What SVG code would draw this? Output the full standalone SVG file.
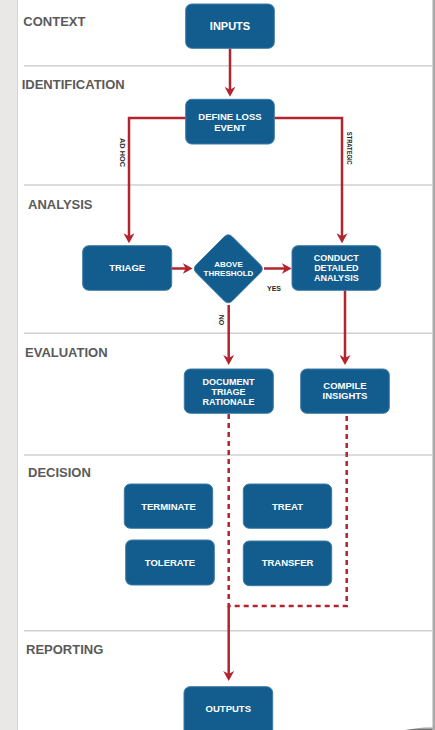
<svg xmlns="http://www.w3.org/2000/svg" width="435" height="730" viewBox="0 0 435 730">
<defs>
<style>
.node{fill:#125d8e;stroke:#3f7ba6;stroke-width:1}
.nt{font-family:"Liberation Sans",Arial,sans-serif;font-weight:bold;fill:#ffffff;text-anchor:middle;font-size:9.5px}
.nt3{font-size:9px}
.sec{font-family:"Liberation Sans",Arial,sans-serif;font-weight:bold;fill:#5a5a5a;font-size:13px}
.div{stroke:#d0d0d0;stroke-width:1.6}
.con{fill:none;stroke:#b3242e;stroke-width:2.5}
.dash{fill:none;stroke:#b3242e;stroke-width:2.5;stroke-dasharray:5 4}
.lbl{font-family:"Liberation Sans",Arial,sans-serif;font-weight:bold;fill:#2a2a2a;font-size:7px;text-anchor:middle}
</style>
<marker id="arr" viewBox="0 0 10 11" refX="7" refY="5.5" markerWidth="10" markerHeight="11" markerUnits="userSpaceOnUse" orient="auto">
<path d="M0,0 L10,5.5 L0,11 L3,5.5 z" fill="#b3242e"/>
</marker>
<linearGradient id="sh" x1="0" y1="0" x2="0" y2="1">
<stop offset="0" stop-color="#888" stop-opacity="0"/>
<stop offset="1" stop-color="#444" stop-opacity="0.9"/>
</linearGradient>
</defs>
<rect x="0" y="0" width="435" height="730" fill="#ffffff"/>
<rect x="0" y="0" width="17.5" height="730" fill="#e9e8e6"/>
<line x1="17.5" y1="0" x2="17.5" y2="730" stroke="#d6d5d3" stroke-width="1"/>
<rect x="432.5" y="0" width="2.5" height="730" fill="#aaaaaa"/>
<path d="M405,730 L432.5,726 L432.5,730 Z" fill="url(#sh)"/>

<g id="dividers">
<line class="div" x1="24" y1="65.7" x2="432.5" y2="65.7"/>
<line class="div" x1="24" y1="185" x2="432.5" y2="185"/>
<line class="div" x1="24" y1="333.3" x2="432.5" y2="333.3"/>
<line class="div" x1="24" y1="455" x2="432.5" y2="455"/>
<line class="div" x1="24" y1="630.7" x2="432.5" y2="630.7"/>
</g>

<g id="sections">
<text class="sec" x="23.3" y="25.7">CONTEXT</text>
<text class="sec" x="21.7" y="89.3">IDENTIFICATION</text>
<text class="sec" x="28" y="209.3">ANALYSIS</text>
<text class="sec" x="25" y="357.3">EVALUATION</text>
<text class="sec" x="28" y="477.3">DECISION</text>
<text class="sec" x="26" y="654">REPORTING</text>
</g>

<g id="connectors">
<line class="con" x1="230" y1="48.3" x2="230" y2="93.7" marker-end="url(#arr)"/>
<path class="con" d="M185.7,118 H129 V240.3" marker-end="url(#arr)"/>
<path class="con" d="M274.3,118 H342 V240.3" marker-end="url(#arr)"/>
<line class="con" x1="171.7" y1="268.5" x2="189.7" y2="268.5" marker-end="url(#arr)"/>
<line class="con" x1="264" y1="268.5" x2="288.7" y2="268.5" marker-end="url(#arr)"/>
<line class="con" x1="228.7" y1="305" x2="228.7" y2="362" marker-end="url(#arr)"/>
<line class="con" x1="345" y1="290.3" x2="345" y2="362" marker-end="url(#arr)"/>
<path class="dash" d="M228.7,414 V606 H346.7 V414"/>
<line class="con" x1="228.7" y1="606" x2="228.7" y2="678" marker-end="url(#arr)"/>
<text class="lbl" transform="translate(122,152.5) rotate(90)" dy="2.5" textLength="29" lengthAdjust="spacingAndGlyphs">AD HOC</text>
<text class="lbl" transform="translate(349,148.3) rotate(90)" dy="2.5" textLength="33" lengthAdjust="spacingAndGlyphs">STRATEGIC</text>
<text class="lbl" x="274" y="291">YES</text>
<text class="lbl" transform="translate(221,320) rotate(90)" dy="2.5">NO</text>
</g>

<g id="n-inputs">
<rect class="node" x="185.7" y="4" width="88.6" height="44.3" rx="6"/>
<text class="nt" x="230" y="29.5" style="font-size:11px">INPUTS</text>
</g>
<g id="n-define">
<rect class="node" x="185.7" y="99.3" width="88.6" height="44.7" rx="6"/>
<text class="nt" x="230" y="120">DEFINE LOSS</text>
<text class="nt" x="230" y="130.5">EVENT</text>
</g>
<g id="n-triage">
<rect class="node" x="82.7" y="245.7" width="89" height="44.6" rx="6"/>
<text class="nt" x="127.2" y="270.7">TRIAGE</text>
</g>
<g id="n-threshold">
<path class="node" d="M224.1,236.9 Q228.3,232.7 232.5,236.9 L260.2,264.6 Q264.4,268.8 260.2,273 L232.5,300.7 Q228.3,304.9 224.1,300.7 L196.4,273 Q192.2,268.8 196.4,264.6 Z"/>
<text class="nt" x="228.5" y="267" style="font-size:8px">ABOVE</text>
<text class="nt" x="228.5" y="275.5" style="font-size:8px">THRESHOLD</text>
</g>
<g id="n-conduct">
<rect class="node" x="292" y="245.7" width="88.7" height="44.6" rx="6"/>
<text class="nt nt3" x="336.3" y="261">CONDUCT</text>
<text class="nt nt3" x="336.3" y="271">DETAILED</text>
<text class="nt nt3" x="336.3" y="281">ANALYSIS</text>
</g>
<g id="n-document">
<rect class="node" x="184.3" y="369" width="89" height="44.3" rx="6"/>
<text class="nt nt3" x="228.5" y="384.5">DOCUMENT</text>
<text class="nt nt3" x="228.5" y="394.5">TRIAGE</text>
<text class="nt nt3" x="228.5" y="404.5">RATIONALE</text>
</g>
<g id="n-compile">
<rect class="node" x="300.7" y="369" width="88.6" height="44.3" rx="6"/>
<text class="nt" x="345" y="389">COMPILE</text>
<text class="nt" x="345" y="399">INSIGHTS</text>
</g>
<g id="n-terminate">
<rect class="node" x="124.3" y="484" width="88.4" height="44.3" rx="6"/>
<text class="nt" x="168.5" y="510">TERMINATE</text>
</g>
<g id="n-treat">
<rect class="node" x="243.3" y="484" width="88.4" height="44.3" rx="6"/>
<text class="nt" x="287.5" y="510">TREAT</text>
</g>
<g id="n-tolerate">
<rect class="node" x="125.7" y="540" width="88.6" height="45" rx="6"/>
<text class="nt" x="170" y="565.6">TOLERATE</text>
</g>
<g id="n-transfer">
<rect class="node" x="243.3" y="541" width="88.4" height="44.7" rx="6"/>
<text class="nt" x="287.5" y="566">TRANSFER</text>
</g>
<g id="n-outputs">
<rect class="node" x="184" y="686.7" width="88.7" height="50" rx="6"/>
<text class="nt" x="228.3" y="711.7">OUTPUTS</text>
</g>
</svg>
